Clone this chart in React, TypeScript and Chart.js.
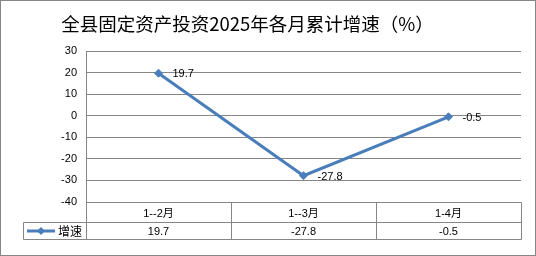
import React, { useEffect, useRef } from 'react';
import { Chart, registerables } from 'chart.js';

Chart.register(...registerables);

const titleText = '全县固定资产投资2025年各月累计增速（%）';
const categories = ['1--2月', '1--3月', '1-4月'];
const seriesName = '增速';
const growth = [19.7, -27.8, -0.5];
const valueLabels = ['19.7', '-27.8', '-0.5'];
const yMin = -40;
const yMax = 30;
const yStep = 10;

const LINE = '#4A7EBB';
const GRID = '#868686';
const FONT = '"Liberation Sans", Arial, "Noto Sans CJK SC", sans-serif';
const CJK = '"Noto Sans CJK SC", "Liberation Sans", sans-serif';

const decorPlugin = {
  id: 'decor',
  beforeDraw(chart: any) {
    const { ctx, width, height } = chart;
    ctx.save();
    ctx.fillStyle = '#fff';
    ctx.fillRect(0, 0, width, height);
    ctx.restore();
  },
  afterDatasetsDraw(chart: any) {
    const { ctx } = chart;
    const meta = chart.getDatasetMeta(0);
    ctx.save();
    ctx.font = `11px ${FONT}`;
    ctx.fillStyle = '#000';
    ctx.textAlign = 'left';
    ctx.textBaseline = 'middle';
    meta.data.forEach((pt: any, i: number) => {
      ctx.fillText(valueLabels[i], pt.x + 14, pt.y + 1);
    });
    ctx.restore();
  },
  afterDraw(chart: any) {
    const { ctx, chartArea, width, height } = chart;
    const xs = chart.scales.x;
    const left = Math.round(chartArea.left) + 0.5;
    const right = Math.round(chartArea.right) + 0.5;
    const top = Math.round(chartArea.bottom) + 0.5;
    const mid = top + 20;
    const bot = top + 37;
    const legLeft = 23.5;
    const n = categories.length;
    const colW = (chartArea.right - chartArea.left) / n;
    ctx.save();
    ctx.strokeStyle = GRID;
    ctx.lineWidth = 1;
    ctx.beginPath();
    ctx.moveTo(left, top); ctx.lineTo(right, top);
    ctx.moveTo(legLeft, mid); ctx.lineTo(right, mid);
    ctx.moveTo(legLeft, bot); ctx.lineTo(right, bot);
    ctx.moveTo(legLeft, mid); ctx.lineTo(legLeft, bot);
    ctx.moveTo(left, top); ctx.lineTo(left, bot);
    for (let i = 1; i <= n; i++) {
      const x = Math.round(chartArea.left + colW * i) + 0.5;
      ctx.moveTo(x, top); ctx.lineTo(x, bot);
    }
    ctx.stroke();

    ctx.fillStyle = '#000';
    ctx.textAlign = 'center';
    ctx.textBaseline = 'middle';
    ctx.font = `11px ${FONT}`;
    categories.forEach((c, i) => {
      const cx = xs.getPixelForValue(i);
      ctx.fillText(c, cx, (top + mid) / 2 + 1);
      ctx.fillText(valueLabels[i], cx, (mid + bot) / 2 + 1);
    });

    const ly = Math.round((mid + bot) / 2);
    ctx.strokeStyle = LINE;
    ctx.lineWidth = 3;
    ctx.beginPath();
    ctx.moveTo(27, ly); ctx.lineTo(55, ly);
    ctx.stroke();
    ctx.fillStyle = LINE;
    ctx.beginPath();
    ctx.moveTo(41 - 4, ly); ctx.lineTo(41, ly - 4); ctx.lineTo(41 + 4, ly); ctx.lineTo(41, ly + 4);
    ctx.closePath();
    ctx.fill();
    ctx.fillStyle = '#000';
    ctx.textAlign = 'left';
    ctx.font = `12px ${CJK}`;
    ctx.fillText(seriesName, 58, ly);

    ctx.textAlign = 'center';
    ctx.font = `18.5px ${CJK}`;
    ctx.fillText(titleText, 247.5, 24);

    ctx.strokeStyle = GRID;
    ctx.lineWidth = 1;
    ctx.strokeRect(0.5, 0.5, width - 1, height - 1);
    ctx.restore();
  },
};

export default function App() {
  const ref = useRef<HTMLCanvasElement | null>(null);
  useEffect(() => {
    if (!ref.current) return;
    const chart = new Chart(ref.current, {
      type: 'line',
      data: {
        labels: categories,
        datasets: [
          {
            label: seriesName,
            data: growth,
            borderColor: LINE,
            backgroundColor: LINE,
            borderWidth: 3,
            pointStyle: 'rectRot',
            pointRadius: 4,
            pointBorderWidth: 1,
            pointBackgroundColor: LINE,
            pointBorderColor: LINE,
            tension: 0,
          },
        ],
      },
      options: {
        responsive: false,
        animation: false,
        events: [],
        layout: { padding: { top: 51, right: 15, bottom: 54, left: 0 } },
        plugins: {
          legend: { display: false },
          tooltip: { enabled: false },
          title: { display: false },
        },
        scales: {
          x: {
            type: 'category',
            display: false,
            offset: true,
          },
          y: {
            min: yMin,
            max: yMax,
            afterFit: (s: any) => {
              s.width = 86;
            },
            ticks: {
              stepSize: yStep,
              color: '#000',
              padding: 9,
              font: { family: FONT, size: 11 },
            },
            grid: { color: GRID, drawTicks: false, lineWidth: 1 },
            border: { color: GRID, width: 1 },
          },
        },
      },
      plugins: [decorPlugin],
    });
    return () => chart.destroy();
  }, []);
  return (
    <div style={{ position: 'fixed', left: 0, top: 0, width: 536, height: 256 }}>
      <canvas ref={ref} width={536} height={256} />
    </div>
  );
}
